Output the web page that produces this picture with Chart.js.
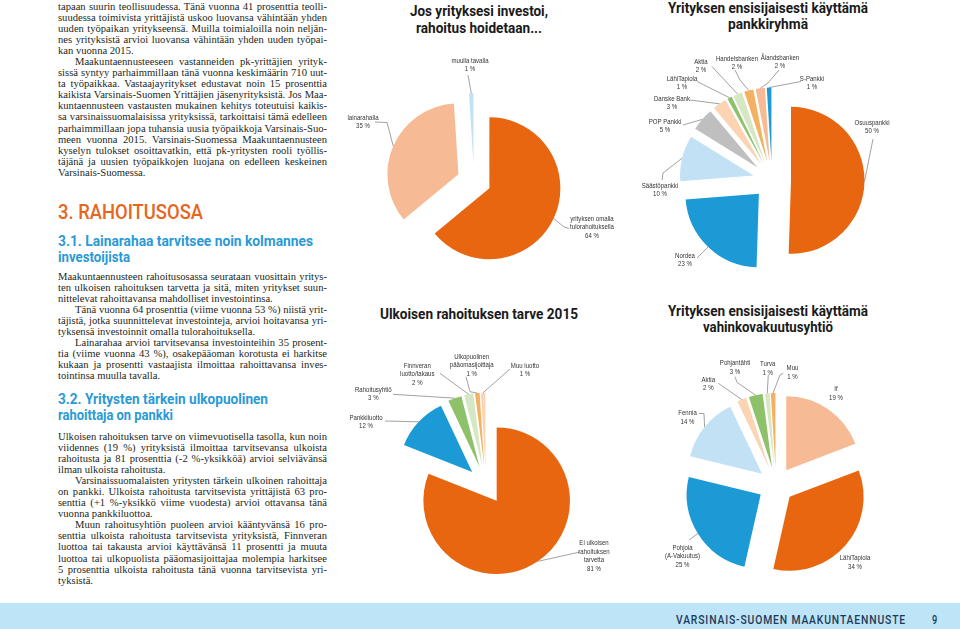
<!DOCTYPE html>
<html lang="fi">
<head>
<meta charset="utf-8">
<title>Rahoitusosa</title>
<script src="https://cdn.jsdelivr.net/npm/chart.js@4.4.1/dist/chart.umd.min.js"></script>
<style>
  html, body { margin: 0; padding: 0; }
  body { width: 960px; height: 629px; position: relative; overflow: hidden; background: #fff; }
  .col { position: absolute; left: 58px; width: 269px; font-family: 'Liberation Serif', 'DejaVu Serif', serif; font-size: 10.6px; line-height: 11.1px; color: #231f20; }
  .col div { text-align: justify; text-align-last: justify; }
  .col div.end { text-align-last: left; }
  .col div.ind { text-indent: 17px; }
  .fit { position: absolute; white-space: nowrap; transform-origin: 0 50%; }
  .h1 { font-family: Roboto, sans-serif; font-weight: 500; font-size: 21px; line-height: 24px; color: #e6661d; }
  .h2 { font-family: Roboto, sans-serif; font-weight: 700; font-size: 14.5px; line-height: 16px; color: #2a9ad6; }
  .ttl { font-family: Roboto, sans-serif; font-weight: 700; font-size: 14.5px; line-height: 16px; color: #1a1a1a; }
  .foot { font-family: Roboto, sans-serif; font-weight: 500; font-size: 12px; line-height: 14px; color: #1d3a57; letter-spacing: 1px; }
  canvas { position: absolute; }
  #band { position: absolute; left: 0; top: 603px; width: 960px; height: 26px; background: #bee4f8; }
</style>
</head>
<body>

<div class="col" style="top:0.5px">
  <div>tapaan suurin teollisuudessa. Tänä vuonna 41 prosenttia teolli-</div>
  <div>suudessa toimivista yrittäjistä uskoo luovansa vähintään yhden</div>
  <div>uuden työpaikan yritykseensä. Muilla toimialoilla noin neljän-</div>
  <div>nes yrityksistä arvioi luovansa vähintään yhden uuden työpai-</div>
  <div class="end">kan vuonna 2015.</div>
  <div class="ind">Maakuntaennusteeseen vastanneiden pk-yrittäjien yrityk-</div>
  <div>sissä syntyy parhaimmillaan tänä vuonna keskimäärin 710 uut-</div>
  <div>ta työpaikkaa. Vastaajayritykset edustavat noin 15 prosenttia</div>
  <div>kaikista Varsinais-Suomen Yrittäjien jäsenyrityksistä. Jos Maa-</div>
  <div>kuntaennusteen vastausten mukainen kehitys toteutuisi kaikis-</div>
  <div>sa varsinaissuomalaisissa yrityksissä, tarkoittaisi tämä edelleen</div>
  <div>parhaimmillaan jopa tuhansia uusia työpaikkoja Varsinais-Suo-</div>
  <div>meen vuonna 2015. Varsinais-Suomessa Maakuntaennusteen</div>
  <div>kyselyn tulokset osoittavatkin, että pk-yritysten rooli työllis-</div>
  <div>täjänä ja uusien työpaikkojen luojana on edelleen keskeinen</div>
  <div class="end">Varsinais-Suomessa.</div>
</div>

<div class="fit h1" data-x="58" data-y="212" data-w="145">3. RAHOITUSOSA</div>
<div class="fit h2" data-x="58" data-y="242" data-w="255">3.1. Lainarahaa tarvitsee noin kolmannes</div>
<div class="fit h2" data-x="58" data-y="258" data-w="72">investoijista</div>

<div class="col" style="top:270.5px">
  <div>Maakuntaennusteen rahoitusosassa seurataan vuosittain yritys-</div>
  <div>ten ulkoisen rahoituksen tarvetta ja sitä, miten yritykset suun-</div>
  <div class="end">nittelevat rahoittavansa mahdolliset investointinsa.</div>
  <div class="ind">Tänä vuonna 64 prosenttia (viime vuonna 53 %) niistä yrit-</div>
  <div>täjistä, jotka suunnittelevat investointeja, arvioi hoitavansa yri-</div>
  <div class="end">tyksensä investoinnit omalla tulorahoituksella.</div>
  <div class="ind">Lainarahaa arvioi tarvitsevansa investointeihin 35 prosent-</div>
  <div>tia (viime vuonna 43 %), osakepääoman korotusta ei harkitse</div>
  <div>kukaan ja prosentti vastaajista ilmoittaa rahoittavansa inves-</div>
  <div class="end">tointinsa muulla tavalla.</div>
</div>

<div class="fit h2" data-x="58" data-y="400" data-w="210">3.2. Yritysten tärkein ulkopuolinen</div>
<div class="fit h2" data-x="58" data-y="416" data-w="115">rahoittaja on pankki</div>

<div class="col" style="top:430.5px">
  <div>Ulkoisen rahoituksen tarve on viimevuotisella tasolla, kun noin</div>
  <div>viidennes (19 %) yrityksistä ilmoittaa tarvitsevansa ulkoista</div>
  <div>rahoitusta ja 81 prosenttia (-2 %-yksikköä) arvioi selviävänsä</div>
  <div class="end">ilman ulkoista rahoitusta.</div>
  <div class="ind">Varsinaissuomalaisten yritysten tärkein ulkoinen rahoittaja</div>
  <div>on pankki. Ulkoista rahoitusta tarvitsevista yrittäjistä 63 pro-</div>
  <div>senttia (+1 %-yksikkö viime vuodesta) arvioi ottavansa tänä</div>
  <div class="end">vuonna pankkiluottoa.</div>
  <div class="ind">Muun rahoitusyhtiön puoleen arvioi kääntyvänsä 16 pro-</div>
  <div>senttia ulkoista rahoitusta tarvitsevista yrityksistä, Finnveran</div>
  <div>luottoa tai takausta arvioi käyttävänsä 11 prosentti ja muuta</div>
  <div>luottoa tai ulkopuolista pääomasijoittajaa molempia harkitsee</div>
  <div>5 prosenttia ulkoista rahoitusta tänä vuonna tarvitsevista yri-</div>
  <div class="end">tyksistä.</div>
</div>

<div class="fit ttl" data-cx="479" data-y="12" data-w="138">Jos yrityksesi investoi,</div>
<div class="fit ttl" data-cx="479" data-y="29" data-w="126">rahoitus hoidetaan...</div>
<div class="fit ttl" data-cx="768" data-y="9" data-w="200">Yrityksen ensisijaisesti käyttämä</div>
<div class="fit ttl" data-cx="768" data-y="25" data-w="80">pankkiryhmä</div>
<div class="fit ttl" data-cx="479" data-y="315" data-w="198">Ulkoisen rahoituksen tarve 2015</div>
<div class="fit ttl" data-cx="768" data-y="312" data-w="200">Yrityksen ensisijaisesti käyttämä</div>
<div class="fit ttl" data-cx="768" data-y="328" data-w="130">vahinkovakuutusyhtiö</div>

<canvas id="invest" width="300" height="300" style="left:324px;top:31px"></canvas>
<canvas id="bank" width="300" height="300" style="left:622px;top:30px"></canvas>
<canvas id="need" width="300" height="300" style="left:336px;top:335px"></canvas>
<canvas id="ins" width="300" height="300" style="left:626px;top:335px"></canvas>

<div id="band"></div>
<div class="fit foot" data-x="676" data-y="620" data-w="230">VARSINAIS-SUOMEN MAAKUNTAENNUSTE</div>
<div class="fit foot" data-x="932" data-y="620" data-w="6">9</div>

<script>
// Jos yrityksesi investoi, rahoitus hoidetaan...
const investCategories = [['yrityksen omalla', 'tulorahoituksella'], 'lainarahalla', 'muulla tavalla'];
const investValues = [64, 35, 1];

// Yrityksen ensisijaisesti käyttämä pankkiryhmä
const bankCategories = ['Osuuspankki', 'Nordea', 'Säästöpankki', 'POP Pankki', 'Danske Bank', 'LähiTapiola', 'Aktia', 'Handelsbanken', 'Ålandsbanken', 'S-Pankki'];
const bankValues = [50, 23, 10, 5, 3, 1, 2, 2, 2, 1];

// Ulkoisen rahoituksen tarve 2015
const needCategories = [['Ei ulkoisen', 'rahoituksen', 'tarvetta'], 'Pankkiluotto', 'Rahoitusyhtiö', ['Finnveran', 'luotto/takaus'], ['Ulkopuolinen', 'pääomasijoittaja'], 'Muu luotto'];
const needValues = [81, 12, 3, 2, 1, 1];

// Yrityksen ensisijaisesti käyttämä vahinkovakuutusyhtiö
const insCategories = ['If', 'LähiTapiola', ['Pohjola', '(A-Vakuutus)'], 'Fennia', 'Aktia', 'Pohjantähti', 'Turva', 'Muu'];
const insValues = [19, 34, 25, 14, 2, 3, 1, 1];

// värit
const OR = '#e8660f', BL = '#1b9ad6', LB = '#c2e1f5', GY = '#bfbfbf', PE = '#fbd4b3',
      GN = '#8dc26b', LG = '#d6e8c3', LO = '#f5b163', SA = '#f6bb95';

// räjäytys ja selitteiden paikat (px suhteessa piirakan keskipisteeseen)
const explodeDist = { invest: 17, bank: 19, need: 19, ins: 18 };
const calloutLayout = {
  invest: [
    { at: [118, 38], path: [[95, 47.5], [90, 46]] },
    { at: [-111, -63], path: [[-99, -59], [-87, -58.5]] },
    { at: [-4, -120], path: [[-6, -106]] }
  ],
  bank: [
    { at: [100, -57.5], path: [[101, -41]] },
    { at: [-87, 76], path: [[-75, 78]] },
    { at: [-112, 6], path: [[-110, 0], [-109, -7]] },
    { at: [-107, -58.5], path: [[-89, -55]] },
    { at: [-100, -81.5], path: [[-82, -80]] },
    { at: [-90, -101], path: [[-75, -98.5]] },
    { at: [-71, -118.5], path: [[-60, -113.5]] },
    { at: [-35, -121], path: [[-37, -110], [-32, -100]] },
    { at: [8, -122.5], path: [[7, -110], [-4, -97]] },
    { at: [40, -101], path: [[29, -98.5]] }
  ],
  need: [
    { at: [108, 58.3], path: [[94, 67]] },
    { at: [-120, -67.3], path: [[-101, -64]] },
    { at: [-112.7, -95], path: [[-93, -90.7]] },
    { at: [-68.7, -119.3], path: [[-46, -111.7]] },
    { at: [-14.3, -128.3], path: [[-20, -108.3], [-16, -93.3]] },
    { at: [39, -119.3], path: [[24, -116]] }
  ],
  ins: [
    { at: [60, -95.7] },
    { at: [79, 73.3] },
    { at: [-93.5, 63], path: [[-87, 55]] },
    { at: [-88.5, -71.7], path: [[-77, -71.5], [-72, -71.5]] },
    { at: [-67.7, -105], path: [[-57.7, -101.7]] },
    { at: [-41, -121.7], path: [[-41, -108.3], [-39, -102.7]] },
    { at: [-8.3, -120.7], path: [[-7.7, -110]] },
    { at: [16.5, -116.7], path: [[7.3, -111.7], [4, -110]] }
  ]
};

// tekstirivien sovitus palstaan
const mctx = document.createElement('canvas').getContext('2d');
document.querySelectorAll('.col div').forEach(div => {
  const cs = getComputedStyle(div);
  mctx.font = cs.fontSize + ' ' + cs.fontFamily;
  const avail = 268 - (div.classList.contains('ind') ? 17 : 0);
  const t = div.textContent;
  const w = mctx.measureText(t).width;
  if (w > avail) div.style.letterSpacing = (-(w - avail) / t.length).toFixed(3) + 'px';
});

// otsikot ym. leveyden mukaan
document.querySelectorAll('.fit').forEach(el => {
  const w = +el.dataset.w;
  const nat = el.getBoundingClientRect().width;
  const left = el.dataset.cx ? +el.dataset.cx - w / 2 : +el.dataset.x;
  el.style.left = left + 'px';
  el.style.top = (+el.dataset.y - el.offsetHeight / 2) + 'px';
  el.style.transform = 'scaleX(' + (w / nat).toFixed(4) + ')';
});

const explodePlugin = {
  id: 'explode',
  beforeDatasetDraw(chart, args) {
    const ctx = chart.ctx;
    const d = explodeDist[chart.canvas.id];
    args.meta.data.forEach(arc => {
      const mid = (arc.startAngle + arc.endAngle) / 2;
      ctx.save();
      ctx.translate(Math.cos(mid) * d, Math.sin(mid) * d);
      arc.draw(ctx);
      ctx.restore();
    });
    return false;
  }
};

const calloutPlugin = {
  id: 'callouts',
  afterDatasetsDraw(chart) {
    const ctx = chart.ctx;
    const meta = chart.getDatasetMeta(0);
    const labels = chart.data.labels;
    const values = chart.data.datasets[0].data;
    const layout = calloutLayout[chart.canvas.id];
    const d = explodeDist[chart.canvas.id];
    ctx.save();
    ctx.font = '7.4px "Liberation Sans", Arial, sans-serif';
    ctx.fillStyle = '#333';
    ctx.strokeStyle = '#8a8a8a';
    ctx.lineWidth = 0.8;
    ctx.textAlign = 'center';
    ctx.textBaseline = 'middle';
    meta.data.forEach((arc, i) => {
      const spec = layout[i];
      const cx = arc.x, cy = arc.y;
      const mid = (arc.startAngle + arc.endAngle) / 2;
      const rr = arc.outerRadius + d;
      if (spec.path) {
        ctx.beginPath();
        spec.path.forEach((p, k) => {
          if (k === 0) ctx.moveTo(cx + p[0], cy + p[1]);
          else ctx.lineTo(cx + p[0], cy + p[1]);
        });
        ctx.lineTo(cx + Math.cos(mid) * rr, cy + Math.sin(mid) * rr);
        ctx.stroke();
      }
      const lines = [].concat(labels[i], values[i] + ' %');
      lines.forEach((t, k) => {
        ctx.save();
        ctx.translate(cx + spec.at[0], cy + spec.at[1] + k * 8.4);
        ctx.scale(0.82, 1);
        ctx.fillText(t, 0, 0);
        ctx.restore();
      });
    });
    ctx.restore();
  }
};

function makePie(id, categories, values, colors, radius) {
  return new Chart(document.getElementById(id), {
    type: 'pie',
    data: {
      labels: categories,
      datasets: [{ data: values, backgroundColor: colors, borderWidth: 0 }]
    },
    options: {
      responsive: false,
      animation: false,
      events: [],
      radius: radius,
      plugins: { legend: { display: false }, tooltip: { enabled: false } }
    },
    plugins: [explodePlugin, calloutPlugin]
  });
}

makePie('invest', investCategories, investValues, [OR, SA, LB], 71);
makePie('bank', bankCategories, bankValues, [OR, BL, LB, GY, PE, GN, LG, LO, SA, BL], 73.5);
makePie('need', needCategories, needValues, [OR, BL, GN, LG, LO, PE], 73.3);
makePie('ins', insCategories, insValues, [SA, OR, BL, LB, PE, GN, LG, LO], 74);
</script>
</body>
</html>
